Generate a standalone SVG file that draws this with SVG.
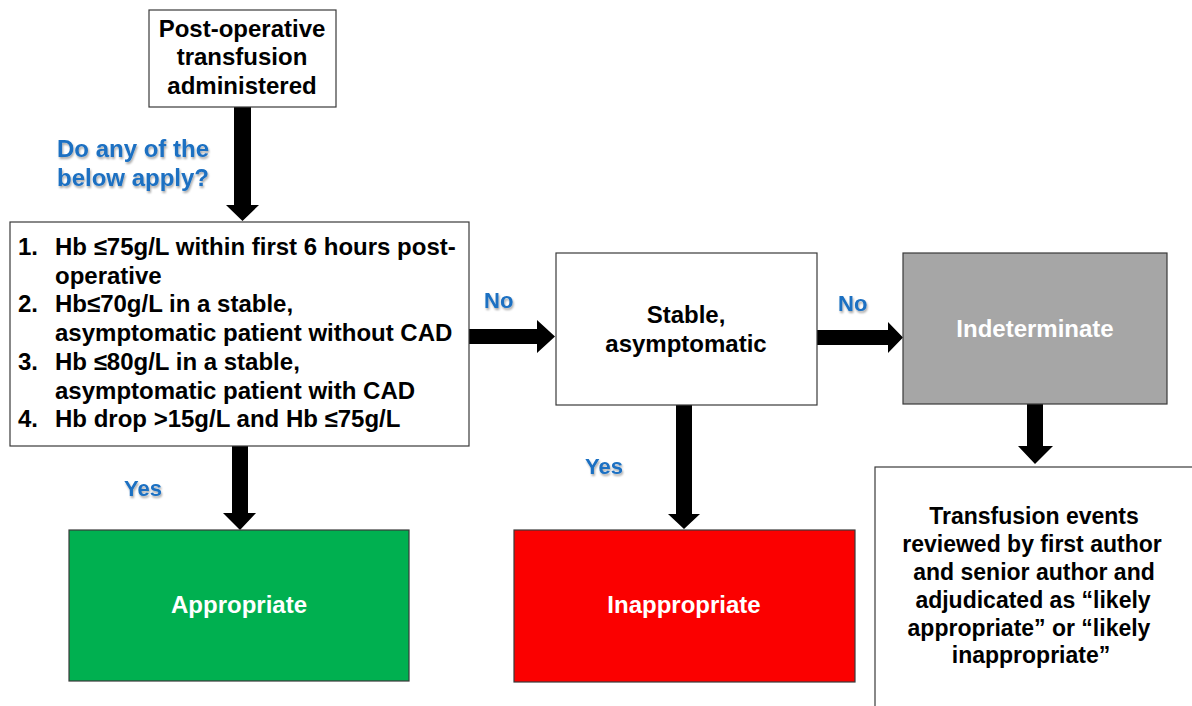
<svg xmlns="http://www.w3.org/2000/svg" width="1192" height="706" viewBox="0 0 1192 706">
  <style>
    .box { stroke: #3a3a3a; stroke-width: 1.2; }
    .white { fill: #ffffff; }
    .t { font-family: "Liberation Sans", Arial, sans-serif; font-weight: bold; font-size: 24px; fill: #000000; }
    .tc { text-anchor: middle; }
    .inv { fill: #ffffff; }
    .sm { font-size: 23px; }
    .lbl { font-family: "Liberation Sans", Arial, sans-serif; font-weight: bold; font-size: 22px; fill: #1a6fc2; filter: url(#shadow); }
    .q { font-size: 24px; }
    .arrow { fill: #000000; }
  </style>
  <defs>
    <filter id="shadow" x="-20%" y="-20%" width="140%" height="160%">
      <feGaussianBlur in="SourceAlpha" stdDeviation="1"/>
      <feOffset dx="1" dy="1.5" result="b"/>
      <feComponentTransfer><feFuncA type="linear" slope="0.35"/></feComponentTransfer>
      <feMerge><feMergeNode/><feMergeNode in="SourceGraphic"/></feMerge>
    </filter>
  </defs>

  <rect width="1192" height="706" fill="#ffffff"/>

  <!-- connectors: thick block arrows -->
  <g id="connectors">
    <polygon class="arrow" points="234,107 251,107 251,205 259,205 242.5,221 226,205 234,205"/>
    <polygon class="arrow" points="232,446 248,446 248,513 256,513 240,530 223,513 232,513"/>
    <polygon class="arrow" points="469,329 537,329 537,320 555,336.5 537,353 537,344 469,344"/>
    <polygon class="arrow" points="817,330 888,330 888,322 903,337.5 888,353 888,345 817,345"/>
    <polygon class="arrow" points="676,405 692,405 692,514 700,514 684,529 668,514 676,514"/>
    <polygon class="arrow" points="1027,404 1043,404 1043,446 1053,446 1035,464 1018,446 1027,446"/>
  </g>

  <!-- branch labels -->
  <g id="labels">
    <text class="lbl q tc" x="133" y="157">Do any of the</text>
    <text class="lbl q tc" x="133" y="186">below apply?</text>
    <text class="lbl" x="484" y="308">No</text>
    <text class="lbl" x="838" y="311">No</text>
    <text class="lbl" x="124" y="496">Yes</text>
    <text class="lbl" x="585" y="474">Yes</text>
  </g>

  <g id="start">
    <rect class="box white" x="149" y="10" width="187" height="97"/>
    <text class="t tc" x="242" y="37">Post-operative</text>
    <text class="t tc" x="242" y="65">transfusion</text>
    <text class="t tc" x="242" y="94">administered</text>
  </g>

  <g id="criteria">
    <rect class="box white" x="10" y="222" width="459" height="224"/>
    <text class="t" x="18" y="255">1.</text>
    <text class="t" x="55" y="255">Hb ≤75g/L within first 6 hours post-</text>
    <text class="t" x="55" y="283.7">operative</text>
    <text class="t" x="18" y="312.4">2.</text>
    <text class="t" x="55" y="312.4">Hb≤70g/L in a stable,</text>
    <text class="t" x="55" y="341">asymptomatic patient without CAD</text>
    <text class="t" x="18" y="369.8">3.</text>
    <text class="t" x="55" y="369.8">Hb ≤80g/L in a stable,</text>
    <text class="t" x="55" y="398.5">asymptomatic patient with CAD</text>
    <text class="t" x="18" y="427">4.</text>
    <text class="t" x="55" y="427">Hb drop &gt;15g/L and Hb ≤75g/L</text>
  </g>

  <g id="stable">
    <rect class="box white" x="556" y="253" width="261" height="152"/>
    <text class="t tc" x="686" y="323">Stable,</text>
    <text class="t tc" x="686" y="352">asymptomatic</text>
  </g>

  <g id="indeterminate">
    <rect class="box" x="903" y="253" width="264" height="151" fill="#a6a6a6"/>
    <text class="t tc inv" x="1035" y="337">Indeterminate</text>
  </g>

  <g id="appropriate">
    <rect class="box" x="69" y="530" width="340" height="151" fill="#00b050"/>
    <text class="t tc inv" x="239" y="613">Appropriate</text>
  </g>

  <g id="inappropriate">
    <rect class="box" x="514" y="530" width="341" height="152" fill="#fb0000"/>
    <text class="t tc inv" x="684" y="613">Inappropriate</text>
  </g>

  <g id="review">
    <rect class="box white" x="875" y="467" width="330" height="260"/>
    <text class="t sm tc" x="1034" y="524">Transfusion events</text>
    <text class="t sm tc" x="1032" y="552">reviewed by first author</text>
    <text class="t sm tc" x="1034" y="580">and senior author and</text>
    <text class="t sm tc" x="1033" y="608">adjudicated as “likely</text>
    <text class="t sm tc" x="1029" y="635.5">appropriate” or “likely</text>
    <text class="t sm tc" x="1031" y="663">inappropriate”</text>
  </g>
</svg>
